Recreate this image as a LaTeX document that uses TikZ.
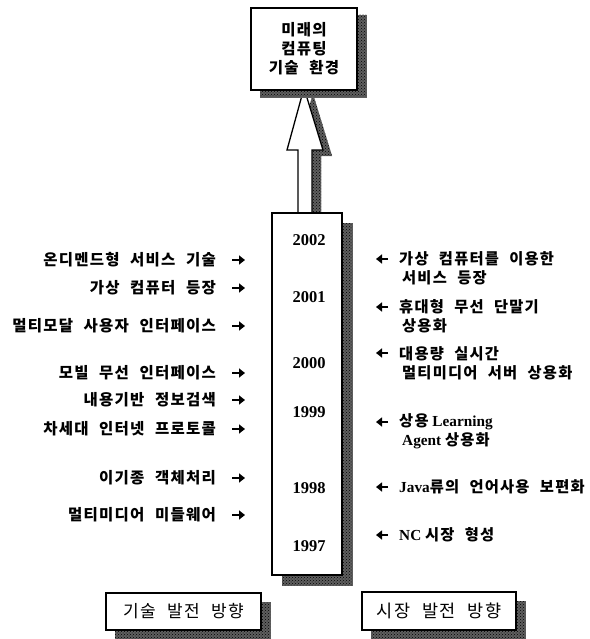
\documentclass[tikz,border=0pt]{standalone}
\usepackage{fontspec}
\setmainfont{Liberation Serif}
\newfontfamily\kr{Noto Sans CJK KR}[LetterSpace=8,WordSpace=2.2]
\usetikzlibrary{arrows.meta,calc,patterns}
\definecolor{shadowgray}{RGB}{95,95,95}
\begin{document}
\begin{tikzpicture}[x=1pt,y=-1pt,
  dropfill/.style={draw=shadowgray,line width=0.1pt,fill=shadowgray,
                   postaction={pattern=crosshatch dots,pattern color=black}},
  boxed/.style={draw,line width=1.3pt,fill=white},
  klabel/.style={font=\kr\bfseries\fontsize{15.5}{19}\selectfont,inner sep=0pt},
  rlabel/.style={font=\bfseries\fontsize{15.3}{19}\selectfont,inner sep=0pt,align=left,anchor=west},
  yearlab/.style={font=\bfseries\fontsize{16.5}{18}\selectfont,inner sep=0pt},
  tiparrow/.style={line width=2.3pt,-{Triangle[length=6pt,width=9pt]}},
  bigarrow/.style={line width=1.3pt,fill=white,line join=miter},
]
\path[use as bounding box] (0,0) rectangle (589,639);

% anchor points of the big arrow (title box bottom / column top)
\coordinate (tipA) at (304,88);
\coordinate (baseA) at (305,214);

% big hollow arrow with its shadow
\path[dropfill] ($(tipA)+(9,6)$) -- ++(19,62) -- ++(-11,0) -- ($(baseA)+(16,6)$) -- ++(-14,0) -- ++(0,-70) -- ++(-11,0) -- cycle;
\draw[bigarrow] (tipA) -- ++(19,62) -- ++(-11,0) -- ($(baseA)+(7,0)$) -- ++(-14,0) -- ++(0,-64) -- ++(-11,0) -- cycle;

% shadows of the boxes
\path[dropfill] (260,15) rectangle (366,97);
\path[dropfill] (282,223) rectangle (352,585);
\path[dropfill] (115,602) rectangle (270,639);
\path[dropfill] (371,601) rectangle (525,638);

% title box
\node[boxed,minimum width=106pt,minimum height=82pt,align=center,
      font=\kr\bfseries\fontsize{15.5}{19}\selectfont,inner sep=0pt] (top) at (304,49)
  {미래의\\컴퓨팅\\기술 환경};

% timeline column
\node[boxed,minimum width=70pt,minimum height=362pt] (col) at (307,394) {};

% bottom boxes
\node[boxed,minimum width=155pt,minimum height=37pt,inner sep=0pt,
      font=\kr\fontsize{17}{18}\selectfont] (tech) at (183.5,611.5) {기술 발전 방향};
\node[boxed,minimum width=154pt,minimum height=38pt,inner sep=0pt,
      font=\kr\fontsize{17.5}{18}\selectfont] (market) at (439,611) {시장 발전 방향};

% years
\node[yearlab] (y2002) at (309,240) {2002};
\node[yearlab] (y2001) at (309,297) {2001};
\node[yearlab] (y2000) at (309,363) {2000};
\node[yearlab] (y1999) at (309,412) {1999};
\node[yearlab] (y1998) at (309,488) {1998};
\node[yearlab] (y1997) at (309,546) {1997};

% left: technology items
\foreach \y/\t [count=\i] in {260/온디멘드형 서비스 기술, 288/가상 컴퓨터 등장, 326/멀티모달 사용자 인터페이스,
  373/모빌 무선 인터페이스, 400/내용기반 정보검색, 429/차세대 인터넷 프로토콜,
  478/이기종 객체처리, 515/멀티미디어 미들웨어}{
  \node[klabel,anchor=east] (L\i) at (216,\y) {\t};
  \coordinate (La\i) at (232,\y);
  \draw[tiparrow] (La\i) -- ++(13,0);
}

% right: market items
\node[rlabel] (R1) at (399,268.5) {{\kr 가상 컴퓨터를 이용한}\\\hspace{3pt}{\kr 서비스 등장}};
\node[rlabel] (R2) at (399,316) {{\kr 휴대형 무선 단말기}\\\hspace{3pt}{\kr 상용화}};
\node[rlabel] (R3) at (399,363) {{\kr 대용량 실시간}\\\hspace{3pt}{\kr 멀티미디어 서버 상용화}};
\node[rlabel] (R4) at (399,431) {{\kr 상용} Learning\\\hspace{3pt}Agent {\kr 상용화}};
\node[rlabel] (R5) at (399,487) {Java{\kr 류의 언어사용 보편화}};
\node[rlabel] (R6) at (399,535) {NC {\kr 시장 형성}};
\foreach \y [count=\i] in {259,307,353,422,487,535}{
  \coordinate (Ra\i) at (388,\y);
  \draw[tiparrow] (Ra\i) -- ++(-12,0);
}
\end{tikzpicture}
\end{document}
